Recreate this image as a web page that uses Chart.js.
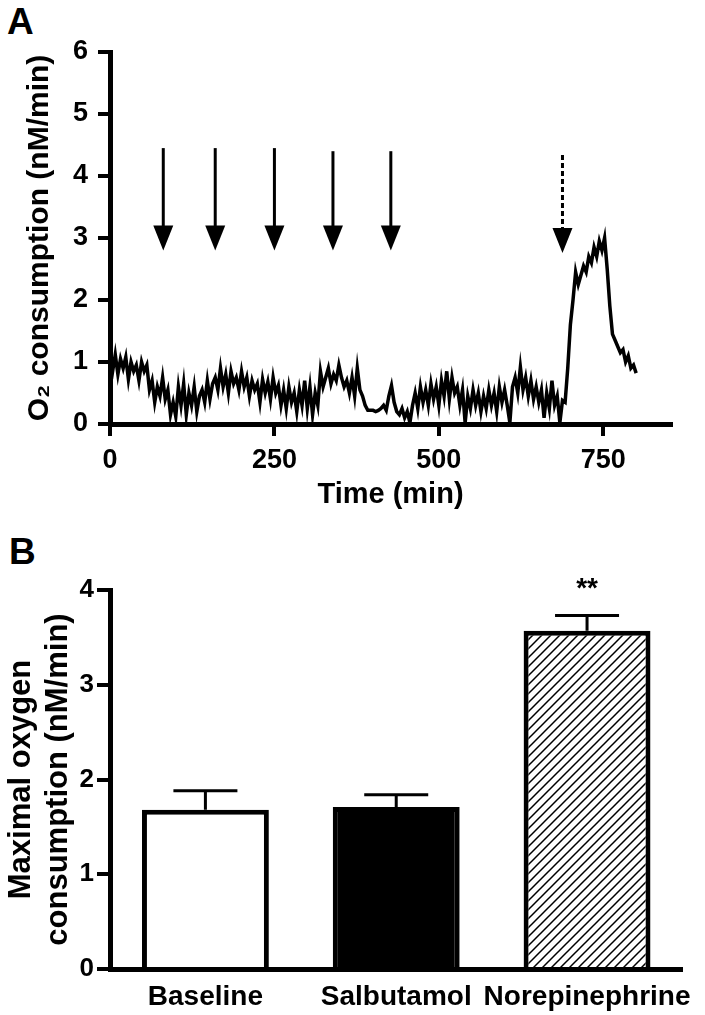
<!DOCTYPE html>
<html>
<head>
<meta charset="utf-8">
<title>O2 consumption</title>
<script src="https://cdn.jsdelivr.net/npm/chart.js@4.4.0/dist/chart.umd.min.js"></script>
<style>
  body { margin: 0; background: #fff; width: 705px; height: 1015px; position: relative; overflow: hidden;
         font-family: 'Liberation Sans', Arial, sans-serif; }
  .panel-letter { position: absolute; font-weight: bold; font-size: 37px; line-height: 1; color: #000; }
  #wrapA { position: absolute; left: 0; top: 0; }
  #wrapB { position: absolute; left: 0; top: 520px; }
</style>
</head>
<body>
<div class="panel-letter" style="left:7px; top:3px;">A</div>
<div class="panel-letter" style="left:9px; top:533px;">B</div>
<div id="wrapA"><canvas id="chartA" width="705" height="520"></canvas></div>
<div id="wrapB"><canvas id="chartB" width="705" height="495"></canvas></div>
<script>
const traceTime = [
  0, 4, 8, 12, 16, 20, 24, 28, 32, 36,
  40, 44, 48, 52, 56, 60, 64, 68, 72, 76,
  80, 84, 88, 92, 96, 100, 104, 108, 112, 116,
  120, 124, 128, 132, 136, 140, 144, 148, 152, 156,
  160, 164, 168, 172, 176, 180, 184, 188, 192, 196,
  200, 204, 208, 212, 216, 220, 224, 228, 232, 236,
  240, 244, 248, 252, 256, 260, 264, 268, 272, 276,
  280, 284, 288, 292, 296, 300, 304, 308, 312, 316,
  320, 324, 328, 332, 336, 340, 344, 348, 352, 356,
  360, 364, 368, 372, 376, 380, 384, 388, 392, 396,
  400, 404, 408, 412, 416, 420, 424, 428, 432, 436,
  440, 444, 448, 452, 456, 460, 464, 468, 472, 476,
  480, 484, 488, 492, 496, 500, 504, 508, 512, 516,
  520, 524, 528, 532, 536, 540, 544, 548, 552, 556,
  560, 564, 568, 572, 576, 580, 584, 588, 592, 596,
  600, 604, 608, 612, 616, 620, 624, 628, 632, 636,
  640, 644, 648, 652, 656, 660, 664, 668, 672, 676,
  680, 684, 688, 692, 696, 700, 704, 708, 712, 716,
  720, 724, 728, 732, 736, 740, 744, 748, 752, 756,
  760, 764, 768, 772, 776, 780, 784, 788, 792, 796,
  800
];
const traceO2 = [
  1.0, 0.85, 1.12, 0.8, 1.05, 0.9, 1.08, 0.72, 1.0, 0.85,
  0.95, 0.7, 1.0, 0.85, 0.95, 0.55, 0.7, 0.35, 0.6, 0.45,
  0.75, 0.4, 0.55, 0.15, 0.35, 0.12, 0.6, 0.3, 0.65, 0.15,
  0.5, 0.3, 0.6, 0.2, 0.45, 0.55, 0.35, 0.7, 0.4, 0.65,
  0.75, 0.55, 0.9, 0.6, 0.8, 0.5, 0.85, 0.65, 0.75, 0.55,
  0.85, 0.6, 0.75, 0.45, 0.7, 0.55, 0.65, 0.35, 0.72, 0.5,
  0.68, 0.4, 0.75, 0.5, 0.62, 0.3, 0.55, 0.25, 0.6, 0.35,
  0.5, 0.2, 0.55, 0.3, 0.7, 0.25, 0.6, 0.15, 0.5, 0.3,
  0.85, 0.6, 0.75, 0.9, 0.65, 0.8, 0.7, 0.95, 0.75, 0.6,
  0.7, 0.5, 0.75, 0.45, 0.9, 0.55, 0.45, 0.3, 0.22, 0.22,
  0.22, 0.2, 0.22, 0.25, 0.3, 0.22, 0.45, 0.62, 0.35, 0.2,
  0.15, 0.25, 0.1, 0.2, 0.02, 0.3, 0.5, 0.25, 0.6, 0.35,
  0.55, 0.3, 0.65, 0.4, 0.6, 0.3, 0.7, 0.45, 0.85, 0.4,
  0.75, 0.5, 0.6, 0.3, 0.55, 0.02, 0.45, 0.25, 0.55, 0.3,
  0.5, 0.2, 0.45, 0.25, 0.55, 0.3, 0.5, 0.2, 0.6, 0.35,
  0.55, 0.3, 0.02, 0.6, 0.75, 0.5, 0.92, 0.55, 0.75, 0.45,
  0.7, 0.4, 0.6, 0.35, 0.55, 0.1, 0.5, 0.25, 0.7, 0.3,
  0.45, 0.02, 0.38, 0.35, 0.9, 1.6, 2.0, 2.45, 2.25, 2.4,
  2.55, 2.45, 2.7, 2.6, 2.85, 2.7, 2.95, 2.8, 3.0, 2.5,
  1.9, 1.45, 1.35, 1.25, 1.15, 1.2, 1.0, 1.1, 0.9, 0.95,
  0.82
];
const timeTicks = [0, 250, 500, 750];
// salbutamol additions (solid) and norepinephrine (dashed)
const arrowTimes = [81, 160, 250, 339, 427];
const arrowTops = [4.45, 4.45, 4.45, 4.4, 4.4];
const arrowTip = 2.8;
const dashedArrowTimes = [688];
const dashedArrowTop = 4.34;
const dashedArrowTip = 2.76;

// panel B - maximal O2 consumption
const groups = ['Baseline', 'Salbutamol', 'Norepinephrine'];
const maxO2 = [1.68, 1.71, 3.57];
const maxO2Sem = [0.20, 0.13, 0.16];
const sigMarks = ['', '', '**'];

const FONT = "'Liberation Sans', Arial, sans-serif";

// hatch for norepinephrine bar
function makeHatch() {
  const pc = document.createElement('canvas');
  pc.width = 9; pc.height = 9;
  const p = pc.getContext('2d');
  p.fillStyle = '#fff';
  p.fillRect(0, 0, 9, 9);
  p.strokeStyle = '#000';
  p.lineWidth = 1.5;
  p.beginPath();
  p.moveTo(-1, 10); p.lineTo(10, -1);
  p.moveTo(-1, 1); p.lineTo(1, -1);
  p.moveTo(8, 10); p.lineTo(10, 8);
  p.stroke();
  return p.createPattern(pc, 'repeat');
}

const arrowPlugin = {
  id: 'arrows',
  afterDatasetsDraw(chart) {
    const { ctx, scales: { x, y } } = chart;
    const headH = 25, headW = 10;
    ctx.save();
    ctx.fillStyle = '#000';
    ctx.strokeStyle = '#000';
    ctx.lineWidth = 3;
    function drawArrow(t, top, tip, dashed) {
      const px = x.getPixelForValue(t);
      const py0 = y.getPixelForValue(top);
      const py1 = y.getPixelForValue(tip);
      ctx.setLineDash(dashed ? [5, 3] : []);
      ctx.beginPath();
      ctx.moveTo(px, py0);
      ctx.lineTo(px, py1 - headH + 1);
      ctx.stroke();
      ctx.setLineDash([]);
      ctx.beginPath();
      ctx.moveTo(px - headW, py1 - headH);
      ctx.lineTo(px + headW, py1 - headH);
      ctx.lineTo(px, py1);
      ctx.closePath();
      ctx.fill();
    }
    arrowTimes.forEach((t, i) => drawArrow(t, arrowTops[i], arrowTip, false));
    dashedArrowTimes.forEach(t => drawArrow(t, dashedArrowTop, dashedArrowTip, true));
    ctx.restore();
  }
};

const errorBarPlugin = {
  id: 'errorBars',
  afterDatasetsDraw(chart) {
    const { ctx, scales: { y } } = chart;
    const meta = chart.getDatasetMeta(0);
    ctx.save();
    ctx.strokeStyle = '#000';
    ctx.fillStyle = '#000';
    ctx.lineWidth = 3;
    meta.data.forEach((bar, i) => {
      const yTop = y.getPixelForValue(maxO2[i]);
      const yErr = y.getPixelForValue(maxO2[i] + maxO2Sem[i]);
      ctx.beginPath();
      ctx.moveTo(bar.x, yTop);
      ctx.lineTo(bar.x, yErr);
      ctx.moveTo(bar.x - 32, yErr);
      ctx.lineTo(bar.x + 32, yErr);
      ctx.stroke();
      if (sigMarks[i]) {
        ctx.font = 'bold 28px ' + FONT;
        ctx.textAlign = 'center';
        ctx.textBaseline = 'alphabetic';
        ctx.fillText(sigMarks[i], bar.x, yErr - 19);
      }
    });
    ctx.restore();
  }
};

const tickFontA = { family: FONT, size: 27, weight: 'bold' };
const titleFontA = { family: FONT, size: 29, weight: 'bold' };

new Chart(document.getElementById('chartA'), {
  type: 'line',
  data: {
    datasets: [{
      data: traceTime.map((t, i) => ({ x: t, y: traceO2[i] })),
      borderColor: '#000',
      borderWidth: 3.5,
      pointRadius: 0,
      tension: 0,
      fill: false
    }]
  },
  options: {
    responsive: false,
    animation: false,
    layout: { padding: { top: 52, right: 34, left: 0, bottom: 0 } },
    plugins: { legend: { display: false }, tooltip: { enabled: false } },
    scales: {
      x: {
        type: 'linear',
        min: 0,
        max: 853,
        afterFit(s) { s.height = 96; },
        afterBuildTicks(s) { s.ticks = timeTicks.map(v => ({ value: v })); },
        ticks: { color: '#000', font: tickFontA, padding: 8, maxRotation: 0 },
        grid: { drawOnChartArea: false, tickLength: 12, lineWidth: 4, color: '#000' },
        border: { width: 5, color: '#000' },
        title: { display: true, text: 'Time (min)', color: '#000', font: titleFontA, padding: { top: 0, bottom: 8 } }
      },
      y: {
        min: 0,
        max: 6,
        afterFit(s) { s.width = 110; },
        ticks: { stepSize: 1, color: '#000', font: tickFontA, padding: 10 },
        grid: { drawOnChartArea: false, tickLength: 12, lineWidth: 4, color: '#000' },
        border: { width: 5, color: '#000' },
        title: { display: true, text: 'O\u2082 consumption (nM/min)', color: '#000',
                 font: { family: FONT, size: 30, weight: 'bold' }, padding: { top: 22, bottom: 0 } }
      }
    }
  },
  plugins: [arrowPlugin]
});

new Chart(document.getElementById('chartB'), {
  type: 'bar',
  data: {
    labels: groups,
    datasets: [{
      data: maxO2,
      backgroundColor: ['#fff', '#000', makeHatch()],
      borderColor: '#000',
      borderWidth: 5,
      barPercentage: 0.665,
      categoryPercentage: 1.0
    }]
  },
  options: {
    responsive: false,
    animation: false,
    layout: { padding: { top: 70, right: 21, left: 0, bottom: 0 } },
    plugins: { legend: { display: false }, tooltip: { enabled: false } },
    scales: {
      x: {
        z: 1,
        afterFit(s) { s.height = 46; },
        ticks: { color: '#000', font: { family: FONT, size: 28, weight: 'bold' }, padding: 11,
                 maxRotation: 0, minRotation: 0, autoSkip: false },
        grid: { display: false, drawTicks: false },
        border: { width: 5, color: '#000' }
      },
      y: {
        min: 0,
        max: 4,
        afterFit(s) { s.width = 110; },
        ticks: { stepSize: 1, color: '#000', font: { family: FONT, size: 26, weight: 'bold' }, padding: 3 },
        grid: { drawOnChartArea: false, tickLength: 13, lineWidth: 4, color: '#000' },
        border: { width: 5, color: '#000' },
        title: { display: true, text: ['Maximal oxygen', 'consumption (nM/min)'], color: '#000',
                 font: { family: FONT, size: 31, weight: 'bold' }, padding: { top: 3, bottom: 0 } }
      }
    }
  },
  plugins: [errorBarPlugin]
});
</script>
</body>
</html>
